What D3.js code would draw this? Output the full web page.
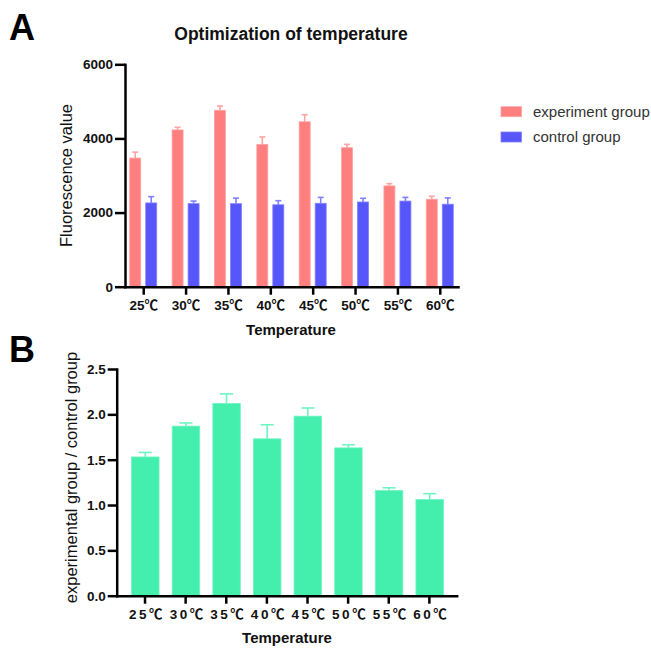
<!DOCTYPE html>
<html>
<head>
<meta charset="utf-8">
<script src="https://cdn.jsdelivr.net/npm/d3@7"></script>
<style>
  body { margin: 0; background: #fff; }
  svg { display: block; }
</style>
</head>
<body>
<div id="chart"></div>
<script>
"use strict";
// values
var categories = ["25℃", "30℃", "35℃", "40℃", "45℃", "50℃", "55℃", "60℃"];
var experimentMean = [3470, 4230, 4760, 3840, 4450, 3750, 2720, 2360];
var experimentErr = [160, 70, 115, 200, 190, 90, 60, 80];
var controlMean = [2260, 2240, 2240, 2210, 2250, 2285, 2310, 2225];
var controlErr = [170, 70, 150, 110, 160, 100, 100, 170];
var ratioMean = [1.53, 1.87, 2.12, 1.73, 1.98, 1.63, 1.16, 1.06];
var ratioErr = [0.05, 0.035, 0.105, 0.155, 0.09, 0.035, 0.03, 0.065];
var yTicksA = [0, 2000, 4000, 6000];
var yTicksB = [0, 0.5, 1.0, 1.5, 2.0, 2.5];
var seriesNames = ["experiment group", "control group"];

var FONT = "'Liberation Sans', Arial, 'Noto Sans CJK SC', sans-serif";
var RED = "#ff7f7f", RED_LIGHT = "#ffa3a3";
var BLUE = "#5656fa", BLUE_LIGHT = "#8080ff";
var GREEN = "#44efad", GREEN_LIGHT = "#6ff5c2";

var svg = d3.select("#chart").append("svg")
    .attr("width", 651)
    .attr("height", 648)
    .style("font-family", FONT);

function styleAxis(g) {
    g.attr("font-family", FONT);
    g.select(".domain").attr("stroke", "#000").attr("stroke-width", 2.5).attr("stroke-linecap", "square");
    g.selectAll(".tick line").attr("stroke", "#000").attr("stroke-width", 2.5);
    g.selectAll(".tick text").attr("fill", "#111").attr("font-weight", "bold").attr("font-size", 13.5);
}

function drawErrors(g, cls, data, x, y, offset, capW, color) {
    var sel = g.selectAll("g." + cls).data(data).enter().append("g").attr("class", cls)
        .attr("stroke", color).attr("stroke-width", 1.6);
    sel.append("line")
        .attr("x1", function (d) { return x(d.cat) + offset; })
        .attr("x2", function (d) { return x(d.cat) + offset; })
        .attr("y1", function (d) { return y(d.v); })
        .attr("y2", function (d) { return y(d.v + d.e); });
    sel.append("line")
        .attr("x1", function (d) { return x(d.cat) + offset - capW / 2; })
        .attr("x2", function (d) { return x(d.cat) + offset + capW / 2; })
        .attr("y1", function (d) { return y(d.v + d.e); })
        .attr("y2", function (d) { return y(d.v + d.e); });
}

function zip(means, errs) {
    return categories.map(function (c, i) { return { cat: c, v: means[i], e: errs[i] }; });
}

// ---------- panel A ----------
var xA = d3.scalePoint().domain(categories).range([125, 458]).padding(0.43);
var yA = d3.scaleLinear().domain([0, 6000]).range([286.7, 64.3]);
var barWA = 11, offA = 8;

var gA = svg.append("g");
var expData = zip(experimentMean, experimentErr);
var ctlData = zip(controlMean, controlErr);

drawErrors(gA, "errExp", expData, xA, yA, -offA, 6, RED_LIGHT);
drawErrors(gA, "errCtl", ctlData, xA, yA, offA, 6, BLUE_LIGHT);

gA.selectAll("rect.exp").data(expData).enter().append("rect").attr("class", "exp")
    .attr("x", function (d) { return xA(d.cat) - offA - barWA / 2; })
    .attr("y", function (d) { return yA(d.v); })
    .attr("width", barWA)
    .attr("height", function (d) { return yA(0) - yA(d.v); })
    .attr("fill", RED).attr("stroke", RED_LIGHT).attr("stroke-width", 0.8);
gA.selectAll("rect.ctl").data(ctlData).enter().append("rect").attr("class", "ctl")
    .attr("x", function (d) { return xA(d.cat) + offA - barWA / 2; })
    .attr("y", function (d) { return yA(d.v); })
    .attr("width", barWA)
    .attr("height", function (d) { return yA(0) - yA(d.v); })
    .attr("fill", BLUE).attr("stroke", BLUE_LIGHT).attr("stroke-width", 0.8);

gA.append("g").attr("transform", "translate(0,286.7)")
    .call(d3.axisBottom(xA).tickSize(8).tickSizeOuter(0).tickPadding(6))
    .call(styleAxis);
gA.append("g").attr("transform", "translate(125,0)")
    .call(d3.axisLeft(yA).tickValues(yTicksA).tickFormat(d3.format("d")).tickSize(10).tickSizeOuter(0).tickPadding(2))
    .call(styleAxis);

svg.append("text").attr("x", 291).attr("y", 39.5).attr("text-anchor", "middle")
    .attr("font-weight", "bold").attr("font-size", 17.5).attr("fill", "#111")
    .text("Optimization of temperature");
svg.append("text").attr("x", 291).attr("y", 335).attr("text-anchor", "middle")
    .attr("font-weight", "bold").attr("font-size", 15).attr("fill", "#111")
    .text("Temperature");
svg.append("text").attr("transform", "translate(72,175.5) rotate(-90)").attr("text-anchor", "middle")
    .attr("font-size", 16.5).attr("fill", "#111")
    .text("Fluorescence value");

// legend
var legend = svg.append("g").selectAll("g").data(seriesNames).enter().append("g")
    .attr("transform", function (d, i) { return "translate(501," + (106.7 + i * 25.3) + ")"; });
legend.append("rect").attr("width", 20.5).attr("height", 10)
    .attr("fill", function (d, i) { return i === 0 ? RED : BLUE; })
    .attr("stroke", function (d, i) { return i === 0 ? RED_LIGHT : BLUE_LIGHT; }).attr("stroke-width", 0.8);
legend.append("text").attr("x", 32).attr("y", 5).attr("dy", "0.35em")
    .attr("font-size", 15).attr("fill", "#333").text(function (d) { return d; });

// ---------- panel B ----------
var xB = d3.scalePoint().domain(categories).range([116.7, 456.7]).padding(0.685);
var yB = d3.scaleLinear().domain([0, 2.5]).range([595.7, 369]);
var barWB = 27.5;
var ratioData = zip(ratioMean, ratioErr);

var gB = svg.append("g");
drawErrors(gB, "errRatio", ratioData, xB, yB, 0.8, 13, GREEN_LIGHT);
gB.selectAll("rect.ratio").data(ratioData).enter().append("rect").attr("class", "ratio")
    .attr("x", function (d) { return xB(d.cat) + 0.8 - barWB / 2; })
    .attr("y", function (d) { return yB(d.v); })
    .attr("width", barWB)
    .attr("height", function (d) { return yB(0) - yB(d.v); })
    .attr("fill", GREEN).attr("stroke", GREEN_LIGHT).attr("stroke-width", 0.8);

gB.append("g").attr("transform", "translate(0,595.7)")
    .call(d3.axisBottom(xB).tickSize(8).tickSizeOuter(0).tickPadding(6))
    .call(styleAxis)
    .selectAll(".tick text").attr("letter-spacing", 2.5).attr("dx", 2);
gB.append("g").attr("transform", "translate(116.7,0)")
    .call(d3.axisLeft(yB).tickValues(yTicksB).tickFormat(d3.format(".1f")).tickSize(9).tickPadding(2).tickSizeOuter(0))
    .call(styleAxis);

svg.append("text").attr("x", 287).attr("y", 643).attr("text-anchor", "middle")
    .attr("font-weight", "bold").attr("font-size", 15).attr("fill", "#111")
    .text("Temperature");
svg.append("text").attr("transform", "translate(77,477.5) rotate(-90)").attr("text-anchor", "middle")
    .attr("font-size", 16.5).attr("fill", "#111")
    .text("experimental group / control group");

// panel letters
svg.append("text").attr("x", 9).attr("y", 39.5).attr("font-weight", "bold").attr("font-size", 36).attr("fill", "#000").text("A");
svg.append("text").attr("x", 9).attr("y", 362).attr("font-weight", "bold").attr("font-size", 36).attr("fill", "#000").text("B");
</script>
</body>
</html>
